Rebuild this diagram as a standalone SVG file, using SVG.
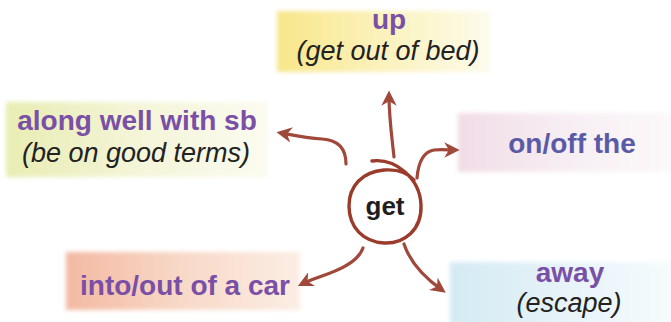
<svg xmlns="http://www.w3.org/2000/svg" width="671" height="322" viewBox="0 0 671 322">
  <defs>
    <style>
      .head{font-family:"Liberation Sans",Arial,sans-serif;font-weight:bold;font-size:28px;fill:#7a4fa6;text-anchor:middle}
      .gloss{font-family:"Liberation Sans",Arial,sans-serif;font-style:italic;font-size:27px;fill:#222;text-anchor:middle}
      .core{font-family:"Liberation Sans",Arial,sans-serif;font-weight:bold;font-size:26px;fill:#1e1e1e;text-anchor:middle}
      .arrow{fill:none;stroke:#a0483a;stroke-width:3.2;stroke-linecap:round;stroke-linejoin:round}
    </style>
    <filter id="soft" x="-5%" y="-10%" width="110%" height="120%">
      <feGaussianBlur stdDeviation="2"/>
    </filter>
    <linearGradient id="gUp" x1="0" y1="0" x2="1" y2="0">
      <stop offset="0" stop-color="#f8e68a"/>
      <stop offset="0.45" stop-color="#fbf1b8"/>
      <stop offset="1" stop-color="#fdfbec"/>
    </linearGradient>
    <linearGradient id="gAlong" x1="0" y1="0" x2="1" y2="0">
      <stop offset="0" stop-color="#e8edb2"/>
      <stop offset="0.5" stop-color="#f4f5d8"/>
      <stop offset="1" stop-color="#fbfbf0"/>
    </linearGradient>
    <linearGradient id="gOn" x1="0" y1="0" x2="1" y2="0">
      <stop offset="0" stop-color="#f1dce6"/>
      <stop offset="0.5" stop-color="#f7eef3"/>
      <stop offset="1" stop-color="#fbf9fa"/>
    </linearGradient>
    <linearGradient id="gCar" x1="0" y1="0" x2="1" y2="0">
      <stop offset="0" stop-color="#f3b9a2"/>
      <stop offset="0.5" stop-color="#f8d9c8"/>
      <stop offset="1" stop-color="#fbede4"/>
    </linearGradient>
    <linearGradient id="gAway" x1="0" y1="0" x2="1" y2="0">
      <stop offset="0" stop-color="#d4eaf3"/>
      <stop offset="0.5" stop-color="#e6f3f8"/>
      <stop offset="1" stop-color="#f6fbfd"/>
    </linearGradient>
    <marker id="head" viewBox="0 0 10 10" refX="7" refY="5" markerWidth="4.8" markerHeight="4.8" orient="auto" markerUnits="strokeWidth">
      <path d="M0,0 L10,5 L0,10 L3,5 Z" fill="#a0483a"/>
    </marker>
  </defs>
  <rect width="671" height="322" fill="#ffffff"/>

  <g id="node-up">
    <rect x="277" y="11" width="213" height="61" fill="url(#gUp)" filter="url(#soft)"/>
    <text class="head" x="389" y="29">up</text>
    <text class="gloss" x="388" y="60">(get out of bed)</text>
  </g>

  <g id="node-along">
    <rect x="6" y="102" width="262" height="75" fill="url(#gAlong)" filter="url(#soft)"/>
    <text class="head" x="137" y="130">along well with sb</text>
    <text class="gloss" x="136" y="162">(be on good terms)</text>
  </g>

  <g id="node-onoff">
    <rect x="458" y="113" width="216" height="59" fill="url(#gOn)" filter="url(#soft)"/>
    <text class="head" x="572" y="153" style="fill:#5a5aa6">on/off the</text>
  </g>

  <g id="node-car">
    <rect x="66" y="252" width="234" height="58" fill="url(#gCar)" filter="url(#soft)"/>
    <text class="head" x="185" y="295">into/out of a car</text>
  </g>

  <g id="node-away">
    <rect x="450" y="262" width="224" height="64" fill="url(#gAway)" filter="url(#soft)"/>
    <text class="head" x="570" y="282">away</text>
    <text class="gloss" x="569" y="312">(escape)</text>
  </g>

  <g id="node-get">
    <path d="M372,161 C395,158 420,178 421,205 C422,230 404,244 384,243 C364,242 349,228 349,206 C349,186 362,172 384,170 C398,169 408,173 414,180" fill="none" stroke="#9a3b2c" stroke-width="3.4" stroke-linecap="round"/>
    <text class="core" x="385" y="215">get</text>
  </g>

  <g id="connectors">
    <path class="arrow" marker-end="url(#head)" d="M394,157 C392,138 389,118 389,95"/>
    <path class="arrow" marker-end="url(#head)" d="M346,164 C346,150 340,140 322,139 C305,138 292,135 281,133"/>
    <path class="arrow" marker-end="url(#head)" d="M417,178 C418,166 422,152 434,150 C442,149 448,150 455,150"/>
    <path class="arrow" marker-end="url(#head)" d="M363,248 C358,262 340,270 322,276 C314,279 308,281 302,284"/>
    <path class="arrow" marker-end="url(#head)" d="M404,244 C410,262 425,278 442,290"/>
  </g>
</svg>
